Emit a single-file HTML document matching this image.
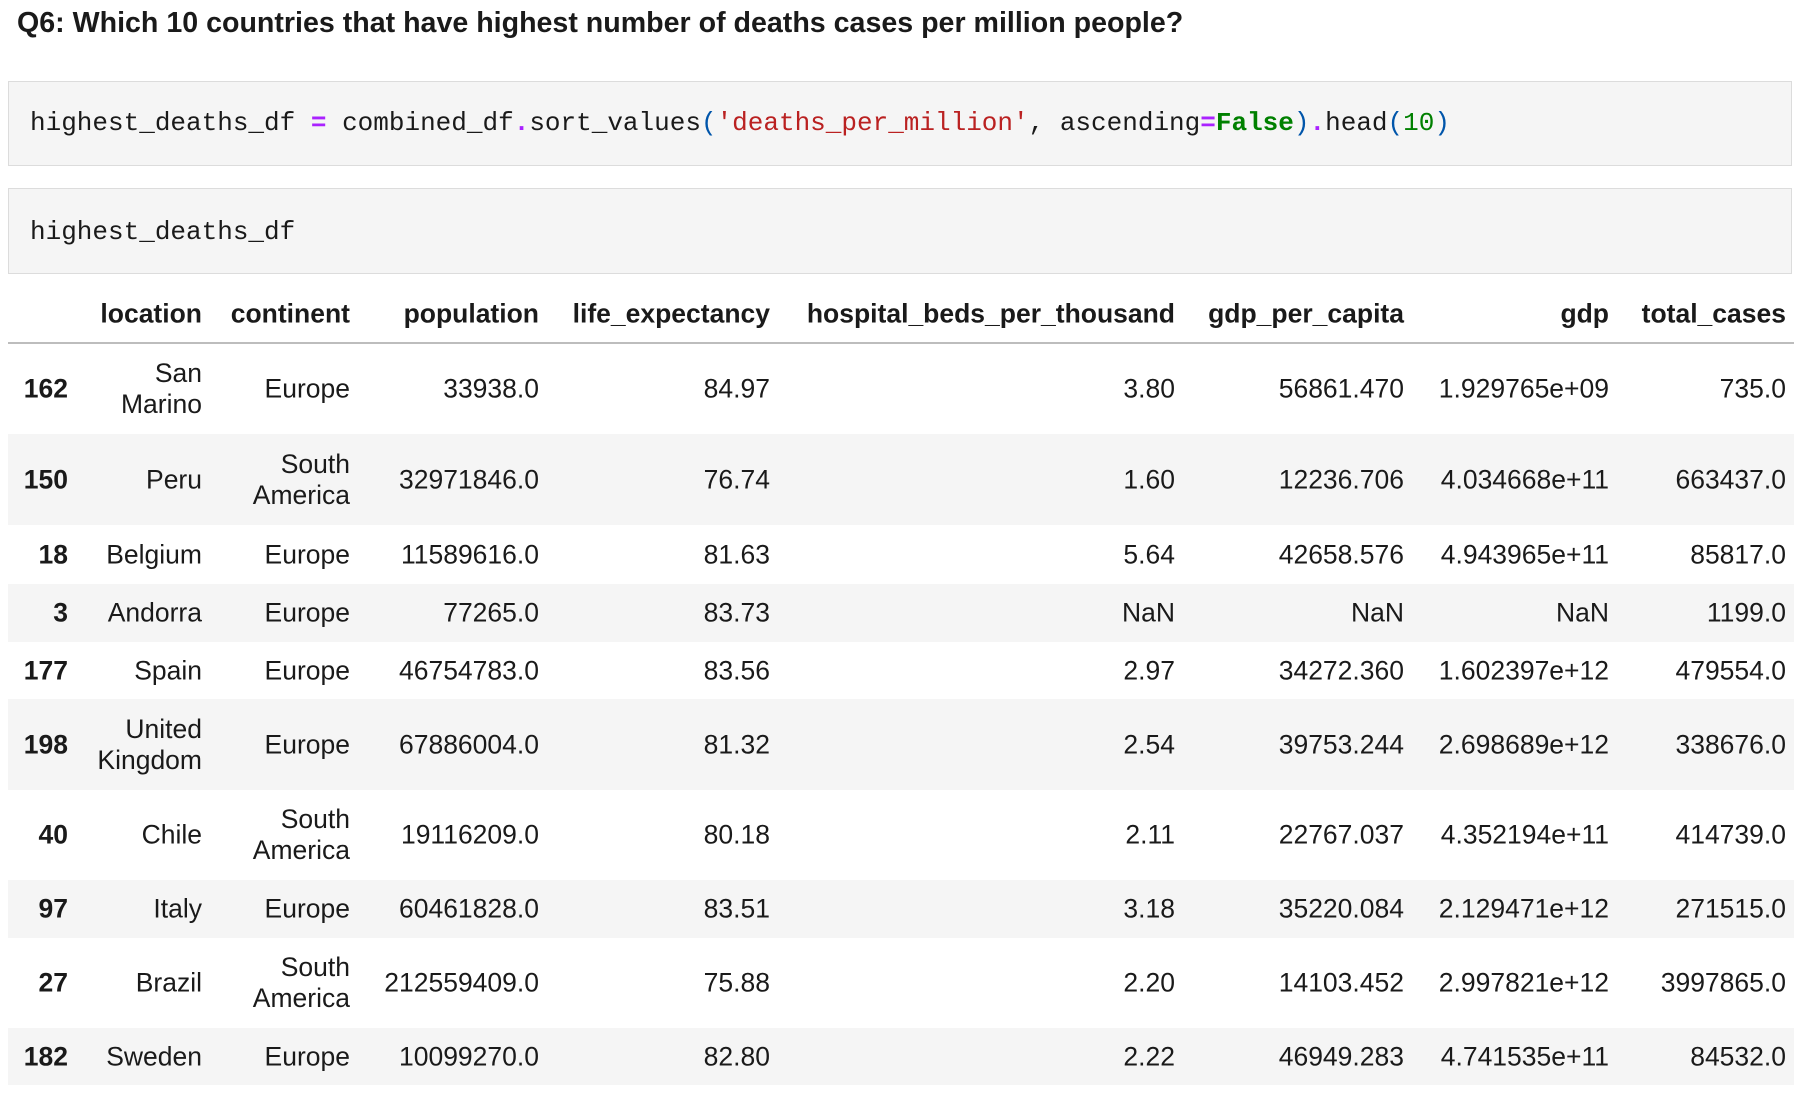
<!DOCTYPE html>
<html><head><meta charset="utf-8">
<style>
body{margin:0;width:1806px;height:1096px;background:#fff;position:relative;overflow:hidden;font-family:"Liberation Sans",sans-serif;color:#1a1a1a}
.title{position:absolute;left:17px;top:7px;font-size:28.6px;font-weight:bold;white-space:nowrap}
.code{position:absolute;left:8px;width:1784px;background:#f5f5f5;border:1px solid #dcdcdc;box-sizing:border-box}
.code pre{position:absolute;left:21px;margin:0;font-family:"Liberation Mono",monospace;font-size:26px;white-space:pre}
.p{color:#aa22ff;font-weight:bold}.s{color:#ba2121}.b{color:#0055aa}.g{color:#008000;font-weight:bold}.n{color:#008000}
.row{position:absolute;left:8px;width:1786px}
.row.alt{background:#f5f5f5}
.c{position:absolute;top:50%;transform:translateY(-50%);text-align:right;font-size:26.5px;line-height:31px;white-space:nowrap}
.idx{font-weight:bold}
.hdr .c{font-weight:bold}
.rule{position:absolute;left:8px;width:1786px;top:342px;height:2px;background:#bdbdbd}
</style></head><body>
<div class="title">Q6: Which 10 countries that have highest number of deaths cases per million people?</div>
<div class="code" style="top:81px;height:85px"><pre style="top:26px">highest_deaths_df <span class="p">=</span> combined_df<span class="p">.</span>sort_values<span class="b">(</span><span class="s">'deaths_per_million'</span>, ascending<span class="p">=</span><span class="g">False</span><span class="b">)</span><span class="p">.</span>head<span class="b">(</span><span class="n">10</span><span class="b">)</span></pre></div>
<div class="code" style="top:188px;height:86px"><pre style="top:28px">highest_deaths_df</pre></div>
<div id="tbl"></div>
<div class="rule"></div>
<script>
const rights=[68,202,350,539,770,1175,1404,1609,1786];
const headers=["","location","continent","population","life_expectancy","hospital_beds_per_thousand","gdp_per_capita","gdp","total_cases"];
const rows=[
["162","San<br>Marino","Europe","33938.0","84.97","3.80","56861.470","1.929765e+09","735.0"],
["150","Peru","South<br>America","32971846.0","76.74","1.60","12236.706","4.034668e+11","663437.0"],
["18","Belgium","Europe","11589616.0","81.63","5.64","42658.576","4.943965e+11","85817.0"],
["3","Andorra","Europe","77265.0","83.73","NaN","NaN","NaN","1199.0"],
["177","Spain","Europe","46754783.0","83.56","2.97","34272.360","1.602397e+12","479554.0"],
["198","United<br>Kingdom","Europe","67886004.0","81.32","2.54","39753.244","2.698689e+12","338676.0"],
["40","Chile","South<br>America","19116209.0","80.18","2.11","22767.037","4.352194e+11","414739.0"],
["97","Italy","Europe","60461828.0","83.51","3.18","35220.084","2.129471e+12","271515.0"],
["27","Brazil","South<br>America","212559409.0","75.88","2.20","14103.452","2.997821e+12","3997865.0"],
["182","Sweden","Europe","10099270.0","82.80","2.22","46949.283","4.741535e+11","84532.0"]];
const bounds=[344,434,525,584,642,699,790,880,938,1028,1085];
const tbl=document.getElementById('tbl');
function mk(cells,top,h,cls,name){
  const r=document.createElement('div');
  r.className='row '+cls;
  
  
  r.style.top=top+'px';r.style.height=h+'px';
  cells.forEach((t,i)=>{
    const c=document.createElement('div');
    c.className='c'+(i===0?' idx':'');
    
    
    c.innerHTML=t;
    c.style.right=(1794-rights[i])+'px';
    r.appendChild(c);
  });
  tbl.appendChild(r);
}
mk(headers,285,58,'hdr','header-row');
rows.forEach((r,i)=>mk(r,bounds[i],bounds[i+1]-bounds[i],i%2?'alt':'','table-row'));
</script>
</body></html>
